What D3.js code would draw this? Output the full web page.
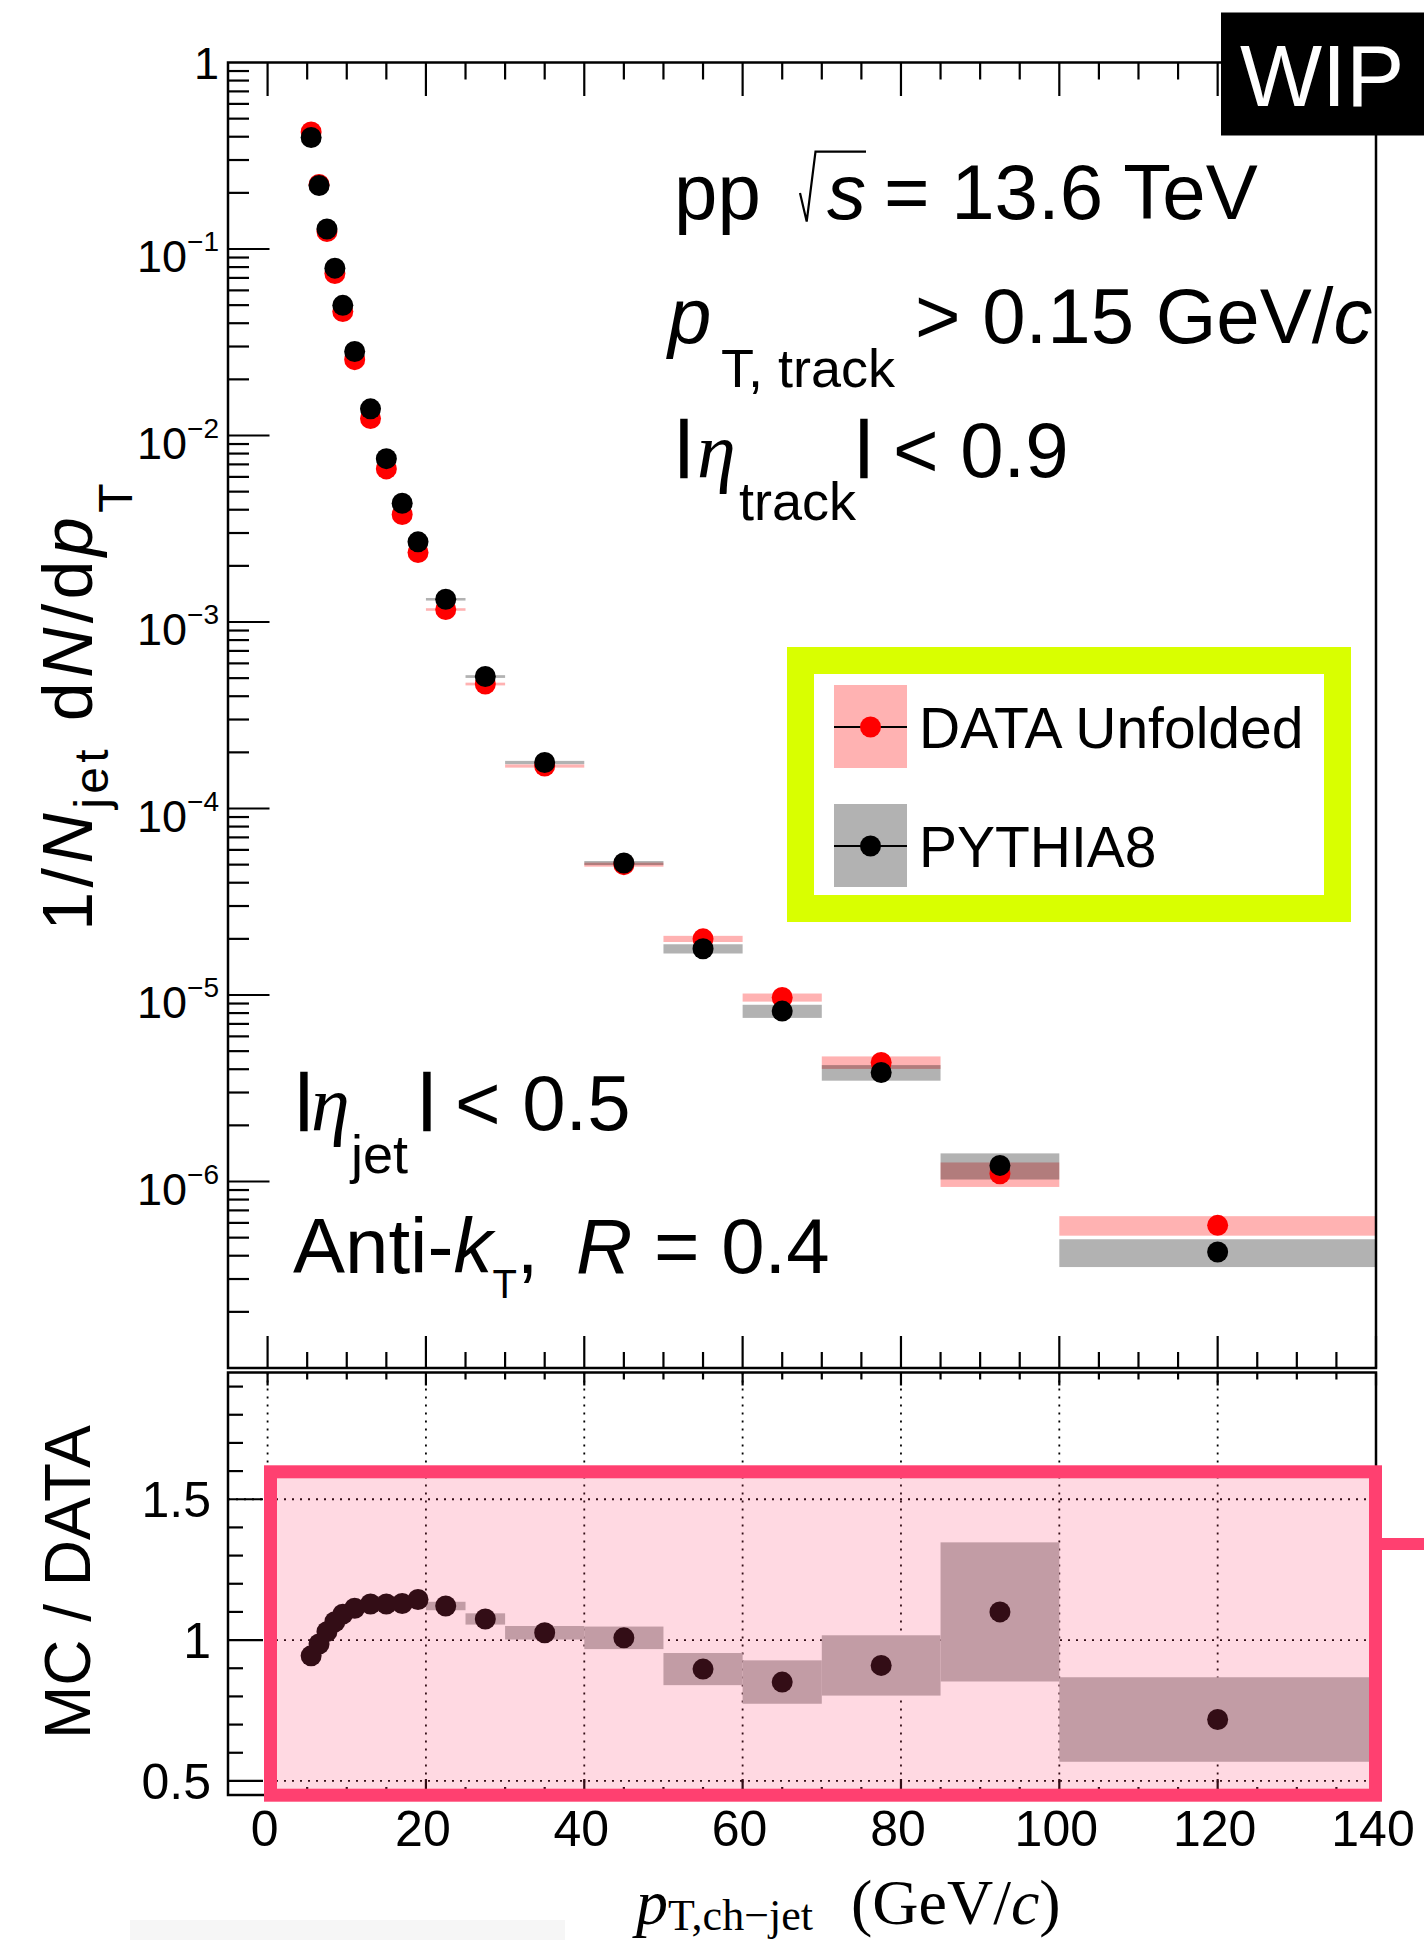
<!DOCTYPE html>
<html><head><meta charset="utf-8">
<script src="https://cdn.jsdelivr.net/npm/d3@7"></script>
<style>
html,body{margin:0;padding:0;background:#fff;}
svg{display:block;}
text{font-family:"Liberation Sans",Arial,Helvetica,sans-serif;fill:#000;}
</style></head><body>
<script>
// Jet pT bins (GeV/c)
const binLow  = [5,6,7,8,9,10,12,14,16,18,20,25,30,40,50,60,70,85,100];
const binHigh = [6,7,8,9,10,12,14,16,18,20,25,30,40,50,60,70,85,100,140];

// Unfolded data: 1/N_jet dN/dpT and relative systematic uncertainty
const dataValues  = [0.424,0.222,0.124,0.0738,0.0462,0.0255,0.01233,0.00662,0.00377,0.00236,
                     0.001167,0.000465,1.69e-4,5.0e-5,2.0e-5,9.7e-6,4.35e-6,1.10e-6,5.82e-7];
const dataSystRel = [0.01,0.01,0.01,0.01,0.01,0.012,0.012,0.014,0.014,0.015,
                     0.016,0.017,0.02,0.025,0.038,0.05,0.077,0.15,0.12];

// PYTHIA8: 1/N_jet dN/dpT and relative systematic uncertainty
const mcValues    = [0.396,0.219,0.128,0.0789,0.0499,0.0282,0.0139,0.00751,0.00433,0.00269,
                     0.001324,0.000510,1.765e-4,5.1e-5,1.77e-5,8.2e-6,3.84e-6,1.22e-6,4.19e-7];
const mcSystRel   = [0.01,0.01,0.01,0.01,0.01,0.012,0.012,0.014,0.014,0.015,
                     0.016,0.017,0.02,0.025,0.057,0.081,0.096,0.16,0.17];

// MC / DATA ratio and its absolute uncertainty
const ratioValues = [0.944,0.986,1.030,1.065,1.092,1.113,1.128,1.128,1.130,1.144,
                     1.121,1.075,1.026,1.008,0.897,0.851,0.910,1.100,0.718];
const ratioSyst   = [0.01,0.01,0.01,0.01,0.01,0.012,0.012,0.012,0.013,0.014,
                     0.015,0.02,0.024,0.040,0.057,0.077,0.107,0.247,0.15];

// Axis ticks and labels
const xTickLabels   = [0,20,40,60,80,100,120,140];
const yDecadeLabels = [0,-1,-2,-3,-4,-5,-6];
const ratioTickLabels = [0.5,1,1.5];

const W = 1424, H = 1940;
const P1 = {l:228, r:1376, t:62.5, b:1368};     // spectrum pad
const P2 = {l:228, r:1376, t:1372.5, b:1795};   // ratio pad

const svg = d3.select("body").append("svg").attr("width",W).attr("height",H);
svg.append("rect").attr("width",W).attr("height",H).attr("fill","#fff");

const x = d3.scaleLinear().domain([-5,140]).range([P1.l,P1.r]);
const yS = d3.scaleLog().domain([1e-7,1]).range([P1.b,P1.t]);
const yR = d3.scaleLinear().domain([0.45,1.95]).range([P2.b,P2.t]);

const bins = binLow.map((lo,i)=>({lo,hi:binHigh[i],c:(lo+binHigh[i])/2,
  d:dataValues[i],de:dataSystRel[i],m:mcValues[i],me:mcSystRel[i],
  r:ratioValues[i],re:ratioSyst[i]}));

const R = 10.5;

// multi-part text helper (sub/superscripts, italics); vertical shifts use dy
// so that a text-anchor applies to the whole line
function richText(g, parts, x0, y0, opts={}) {
  const t = g.append("text").attr("x",x0).attr("y",y0);
  if (opts.anchor) t.attr("text-anchor",opts.anchor);
  if (opts.transform) t.attr("transform",opts.transform);
  if (opts.fill) t.style("fill",opts.fill);
  let cur = 0;
  parts.forEach(p=>{
    const off = p.off||0;
    const s = t.append("tspan").text(p.t)
      .attr("dy", off-cur)
      .attr("font-size", p.size);
    cur = off;
    if (p.x!=null) s.attr("x",p.x);
    if (p.it) s.attr("font-style","italic");
    if (p.serif) s.attr("font-family","'Liberation Serif','Times New Roman',serif");
    if (p.stroke) s.style("stroke","#000").style("stroke-width",p.stroke);
  });
  return t;
}

// ---------- spectrum pad ----------
const g1 = svg.append("g");
g1.selectAll("rect.dsys").data(bins).join("rect")
  .attr("x",d=>x(d.lo)).attr("width",d=>x(d.hi)-x(d.lo))
  .attr("y",d=>yS(d.d*(1+d.de))).attr("height",d=>yS(d.d*(1-d.de))-yS(d.d*(1+d.de)))
  .attr("fill","rgba(255,0,0,0.3)");
g1.selectAll("rect.msys").data(bins).join("rect")
  .attr("x",d=>x(d.lo)).attr("width",d=>x(d.hi)-x(d.lo))
  .attr("y",d=>yS(d.m*(1+d.me))).attr("height",d=>yS(d.m*(1-d.me))-yS(d.m*(1+d.me)))
  .attr("fill","rgba(0,0,0,0.3)");
g1.selectAll("circle.dp").data(bins).join("circle")
  .attr("cx",d=>x(d.c)).attr("cy",d=>yS(d.d)).attr("r",R).attr("fill","#ff0000");
g1.selectAll("circle.mp").data(bins).join("circle")
  .attr("cx",d=>x(d.c)).attr("cy",d=>yS(d.m)).attr("r",R).attr("fill","#000");

// frame + ticks
const axisStyle = s => s.attr("stroke","#000").attr("stroke-width",2.2);
g1.append("rect").attr("x",P1.l).attr("y",P1.t).attr("width",P1.r-P1.l).attr("height",P1.b-P1.t)
  .attr("fill","none").attr("stroke","#000").attr("stroke-width",2.5);

const logTicks = [];
for (let k=-7;k<0;k++) for (let m=1;m<=9;m++) logTicks.push({v:m*Math.pow(10,k),maj:m===1});
g1.selectAll("line.yt").data(logTicks.filter(t=>t.v>1e-7)).join("line")
  .attr("x1",P1.l).attr("x2",d=>P1.l+(d.maj?41.5:21))
  .attr("y1",d=>yS(d.v)).attr("y2",d=>yS(d.v)).call(axisStyle);

const xMinor = d3.range(0,141,5).map(v=>({v,maj:v%20===0}));
g1.selectAll("line.xt1").data(xMinor).join("line")
  .attr("x1",d=>x(d.v)).attr("x2",d=>x(d.v))
  .attr("y1",P1.t).attr("y2",d=>P1.t+(d.maj?33.5:17)).call(axisStyle);
g1.selectAll("line.xb1").data(xMinor).join("line")
  .attr("x1",d=>x(d.v)).attr("x2",d=>x(d.v))
  .attr("y1",P1.b).attr("y2",d=>P1.b-(d.maj?32:16)).call(axisStyle);

// decade labels
yDecadeLabels.forEach(k=>{
  const yy = yS(Math.pow(10,k));
  if (k===0) {
    g1.append("text").attr("x",219).attr("y",yy+16.5).attr("text-anchor","end")
      .attr("font-size",45).text("1");
  } else {
    richText(g1,[{t:"10",size:45},{t:"\u2212"+(-k),size:28,off:-21}],219,yy+23,{anchor:"end"});
  }
});

// annotations
const FS = 78;
richText(g1,[{t:"pp",x:674,size:FS},{t:"s",x:827,size:FS,it:true},{t:"= 13.6 TeV",x:884,size:FS}],0,219);
g1.append("path").attr("d","M800,193 L806.7,221.5 L815.5,151.7 L866,151.7")
  .attr("fill","none").attr("stroke","#000").attr("stroke-width",2.2);
richText(g1,[{t:"p",x:668,size:FS,it:true},{t:"T, track",x:721,off:44,size:54},
  {t:"> 0.15 GeV/",x:915,size:FS},{t:"c",size:FS,it:true}],0,343);
richText(g1,[{t:"|",x:676,off:-13,size:61,stroke:2.5},{t:"\u03b7",x:697,size:FS,it:true,serif:true},
  {t:"track",x:739,off:43,size:54},{t:"|",x:856,off:-13,size:61,stroke:2.5},
  {t:"< 0.9",x:893,size:FS}],0,477);
richText(g1,[{t:"|",x:296,off:-13,size:61,stroke:2.5},{t:"\u03b7",x:311,size:FS,it:true,serif:true},
  {t:"jet",x:351,off:43,size:54},{t:"|",x:419,off:-13,size:61,stroke:2.5},
  {t:"< 0.5",x:455,size:FS}],0,1130);
richText(g1,[{t:"Anti-",x:293,size:FS},{t:"k",size:FS,it:true},{t:"T",off:25,size:40},
  {t:",",size:FS},{t:"R",x:576,size:FS,it:true},{t:" = 0.4",size:FS}],0,1273);

// legend
const lg = svg.append("g");
lg.append("rect").attr("x",800.5).attr("y",660.5).attr("width",537).attr("height",248)
  .attr("fill","#fff").attr("stroke","#d9ff00").attr("stroke-width",27);
const legendItems = [
  {label:"DATA Unfolded", box:"rgba(255,0,0,0.3)", mark:"#ff0000", y:727},
  {label:"PYTHIA8",       box:"rgba(0,0,0,0.3)",   mark:"#000",    y:846}
];
legendItems.forEach(it=>{
  lg.append("rect").attr("x",834).attr("y",it.y-42).attr("width",73).attr("height",83).attr("fill",it.box);
  lg.append("line").attr("x1",834).attr("x2",907).attr("y1",it.y).attr("y2",it.y)
    .attr("stroke","#000").attr("stroke-width",2);
  lg.append("circle").attr("cx",870.5).attr("cy",it.y).attr("r",R).attr("fill",it.mark);
  lg.append("text").attr("x",919).attr("y",it.y+21).attr("font-size",57).text(it.label);
});

// ---------- ratio pad ----------
const g2 = svg.append("g");
const dots = s => s.attr("stroke","#000").attr("stroke-width",1.8).attr("stroke-dasharray","2,6");
g2.selectAll("line.gx").data(xTickLabels.filter(v=>v<140)).join("line")
  .attr("x1",d=>x(d)).attr("x2",d=>x(d)).attr("y1",P2.t).attr("y2",P2.b).call(dots);
g2.selectAll("line.gy").data(ratioTickLabels).join("line")
  .attr("x1",P2.l).attr("x2",P2.r).attr("y1",d=>yR(d)).attr("y2",d=>yR(d)).call(dots);

g2.selectAll("rect.rsys").data(bins).join("rect")
  .attr("x",d=>x(d.lo)).attr("width",d=>x(d.hi)-x(d.lo))
  .attr("y",d=>yR(d.r+d.re)).attr("height",d=>yR(d.r-d.re)-yR(d.r+d.re))
  .attr("fill","#b3b3b3");
g2.selectAll("circle.rp").data(bins).join("circle")
  .attr("cx",d=>x(d.c)).attr("cy",d=>yR(d.r)).attr("r",R).attr("fill","#000");

g2.append("rect").attr("x",P2.l).attr("y",P2.t).attr("width",P2.r-P2.l).attr("height",P2.b-P2.t)
  .attr("fill","none").attr("stroke","#000").attr("stroke-width",2.5);
const rTicks = d3.range(5,20).map(i=>({v:i/10,maj:i%5===0}));
g2.selectAll("line.ry").data(rTicks).join("line")
  .attr("x1",P2.l).attr("x2",d=>P2.l+(d.maj?35:15))
  .attr("y1",d=>yR(d.v)).attr("y2",d=>yR(d.v)).call(axisStyle);
g2.selectAll("line.xt2").data(xMinor).join("line")
  .attr("x1",d=>x(d.v)).attr("x2",d=>x(d.v))
  .attr("y1",P2.t).attr("y2",d=>P2.t+(d.maj?13:7)).call(axisStyle);
g2.selectAll("line.xb2").data(xMinor).join("line")
  .attr("x1",d=>x(d.v)).attr("x2",d=>x(d.v))
  .attr("y1",P2.b).attr("y2",d=>P2.b-(d.maj?16:8)).call(axisStyle);

g2.selectAll("text.ry").data(ratioTickLabels).join("text")
  .attr("x",211).attr("y",d=>yR(d)+18).attr("text-anchor","end").attr("font-size",50)
  .text(d=>d);
g2.selectAll("text.xl").data(xTickLabels).join("text")
  .attr("x",d=>x(d)-3).attr("y",1846).attr("text-anchor","middle").attr("font-size",50)
  .text(d=>d);

// highlight frame over the ratio pad
svg.append("rect").attr("x",270.5).attr("y",1471.8).attr("width",1105).attr("height",323.4)
  .attr("fill","rgba(255,64,112,0.2)").attr("stroke","#ff4070").attr("stroke-width",13);
svg.append("line").attr("x1",1382).attr("x2",W).attr("y1",1544).attr("y2",1544)
  .attr("stroke","#ff4070").attr("stroke-width",12);

// WIP tag
svg.append("rect").attr("x",1221).attr("y",12.5).attr("width",W-1221).attr("height",123).attr("fill","#000");
svg.append("text").attr("x",1240).attr("y",106).attr("font-size",87).style("fill","#fff").text("WIP");

// axis titles
const yt = richText(svg,[{t:"1/",size:70},{t:"N",size:70,it:true},{t:"jet",off:16,size:48},
  {t:" d",size:70},{t:"N",size:70,it:true},{t:"/d",size:70},{t:"p",size:70,it:true},{t:"T",off:40,size:48}],
  0,0,{anchor:"middle",transform:"translate(92,705) rotate(-90)"});
const natural = yt.node().getComputedTextLength();
yt.style("letter-spacing",Math.max(0,(456-natural)/14).toFixed(2)+"px");

richText(svg,[{t:"MC / DATA",size:64}],0,0,{anchor:"middle",transform:"translate(90,1582) rotate(-90)"});

richText(svg,[{t:"p",x:636,size:64,it:true,serif:true},{t:"T,ch\u2212jet",off:6,size:44,serif:true},
  {t:"(GeV/",x:851,size:64,serif:true},{t:"c",size:64,it:true,serif:true},{t:")",size:64,serif:true}],0,1924);

// faint strip at the bottom edge
svg.append("rect").attr("x",130).attr("y",1920).attr("width",435).attr("height",20).attr("fill","#f6f6f6");
</script>
</body></html>
